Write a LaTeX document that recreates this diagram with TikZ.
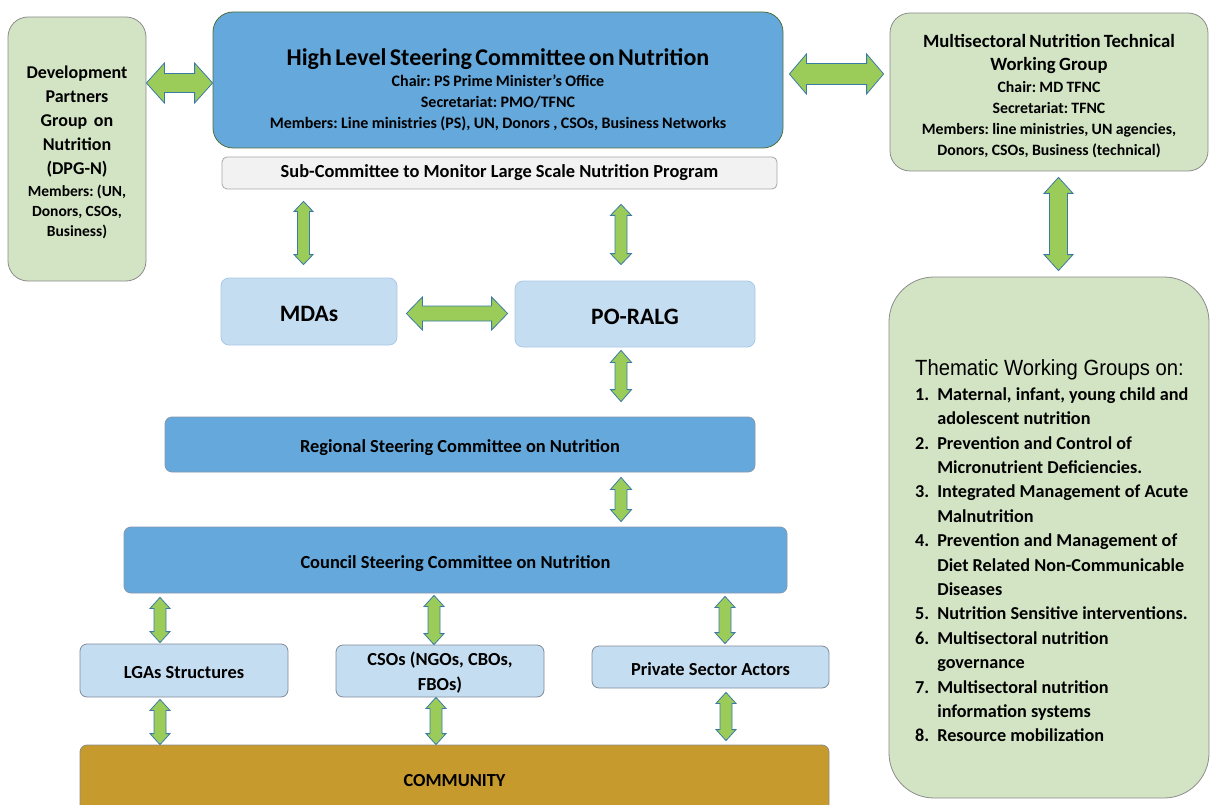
\documentclass[tikz,border=0pt]{standalone}
\usepackage{fontspec}
\setmainfont{Carlito}
\newfontfamily\arialfont[FakeStretch=0.92]{Liberation Sans}
\usetikzlibrary{calc}
\frenchspacing

\definecolor{grpgreen}{HTML}{D3E4C4}
\definecolor{grpedge}{HTML}{8C8C8C}
\definecolor{comblue}{HTML}{65A8DC}
\definecolor{hledge}{HTML}{4E6D3A}
\definecolor{lvledge}{HTML}{8497B0}
\definecolor{paleblue}{HTML}{C5DDF1}
\definecolor{paleedge}{HTML}{A9C8E8}
\definecolor{unitedge}{HTML}{7F8C99}
\definecolor{subfill}{HTML}{F2F2F2}
\definecolor{subedge}{HTML}{A6A6A6}
\definecolor{commfill}{HTML}{C69A2C}
\definecolor{arrfill}{HTML}{9BCC5A}
\definecolor{arredge}{HTML}{3A7BA5}

\tikzset{
  box/.style={rectangle, inner sep=0pt, line width=0.8pt, align=center},
  greenbox/.style={box, fill=grpgreen, draw=grpedge, rounded corners=20pt},
  bluebox/.style={box, fill=comblue, draw=lvledge, rounded corners=7pt},
  palebox/.style={box, fill=paleblue, draw=unitedge, rounded corners=7pt},
  fatarrowstyle/.style={fill=arrfill, draw=arredge, line width=0.8pt, line join=miter},
  bodyfont/.style={font=\bfseries\fontsize{18.4}{25}\selectfont},
  txt/.style={bodyfont, text height=16pt, text depth=0pt},
  bigtxt/.style={font=\bfseries\fontsize{23.5}{28}\selectfont, text height=20pt, text depth=0pt},
}

% double-headed block arrow between two points:
% #1 start, #2 end, #3 half shaft width, #4 half head width, #5 head length
\newcommand\fatarrow[5]{%
  \path let \p1=#1, \p2=#2 in
    \pgfextra{\pgfmathsetmacro\faang{atan2(\y2-\y1,\x2-\x1)}%
              \pgfmathsetmacro\falen{veclen(\x2-\x1,\y2-\y1)}%
              \xdef\faang{\faang}\xdef\falen{\falen}};
  \draw[fatarrowstyle, shift={#1}, rotate=\faang]
    (0pt,0pt) -- (#5pt,#4pt) -- (#5pt,#3pt) -- ({\falen pt-#5pt},#3pt)
    -- ({\falen pt-#5pt},#4pt) -- (\falen pt,0pt) -- ({\falen pt-#5pt},-#4pt)
    -- ({\falen pt-#5pt},-#3pt) -- (#5pt,-#3pt) -- (#5pt,-#4pt) -- cycle;
}

\begin{document}
\begin{tikzpicture}[x=1pt, y=-1pt]
\useasboundingbox (0,0) rectangle (1210,805);
\clip (0,0) rectangle (1210,805);

% ---- national level ----
\node[greenbox, minimum width=138pt, minimum height=264pt] (dpg) at (77,149) {};
\node[align=center, text width=134pt, inner sep=0pt] (dpgt) at (77,152.5)
  {\bfseries\fontsize{18}{24}\selectfont Development\\ Partners\\ Group~ on\\ Nutrition\\ (DPG-N)\par
   \vspace{2pt}\fontsize{15.5}{20}\selectfont Members: (UN,\\ Donors, CSOs,\\ Business)\par};

\node[box, fill=comblue, draw=hledge, rounded corners=20pt, minimum width=570pt, minimum height=136pt] (hlsc) at (498,80) {};
\node[align=center, text width=560pt, inner sep=0pt] (hlsct) at (498,89.5)
  {\bfseries\fontsize{24}{28}\selectfont High Level Steering Committee on Nutrition\par
   \fontsize{16}{21}\selectfont Chair: PS Prime Minister’s Office\\ Secretariat: PMO/TFNC\\
   Members: Line ministries (PS), UN, Donors , CSOs, Business Networks\par};

\node[box, fill=subfill, draw=subedge, rounded corners=5pt, minimum width=555pt, minimum height=32pt, bodyfont] (sub) at (499.5,173)
  {Sub-Committee to Monitor Large Scale Nutrition Program};

\node[greenbox, minimum width=318pt, minimum height=158pt] (mntwg) at (1049,92) {};
\node[align=center, text width=310pt, inner sep=0pt] (mntwgt) at (1049,96.5)
  {\bfseries\fontsize{18.7}{23}\selectfont Multisectoral Nutrition Technical\\ Working Group\par
   \fontsize{15.8}{21.3}\selectfont Chair: MD TFNC\\ Secretariat: TFNC\\
   Members: line ministries, UN agencies,\\ Donors, CSOs, Business (technical)\par};

\node[box, fill=grpgreen, draw=grpedge, rounded corners=45pt, minimum width=320pt, minimum height=521pt] (twg) at (1049,537.5) {};
\node[anchor=base west, inner sep=0pt, font=\arialfont\fontsize{22}{26}\selectfont] (twghead) at (915,375)
  {Thematic Working Groups on:};
\node[anchor=north west, inner sep=0pt, font=\bfseries\fontsize{18.2}{24.4}\selectfont] (twglist) at (915,383)
  {\begin{tabular}{@{}l@{\hspace{8pt}}l@{}}
   1. & Maternal, infant, young child and\\
      & adolescent nutrition\\
   2. & Prevention and Control of\\
      & Micronutrient Deficiencies.\\
   3. & Integrated Management of Acute\\
      & Malnutrition\\
   4. & Prevention and Management of\\
      & Diet Related Non-Communicable\\
      & Diseases\\
   5. & Nutrition Sensitive interventions.\\
   6. & Multisectoral nutrition\\
      & governance\\
   7. & Multisectoral nutrition\\
      & information systems\\
   8. & Resource mobilization
   \end{tabular}};

% ---- ministries and regional level ----
\node[box, fill=paleblue, draw=paleedge, rounded corners=8pt, minimum width=176pt, minimum height=67pt, bigtxt] (mdas) at (309,311.5) {MDAs};
\node[box, fill=paleblue, draw=paleedge, rounded corners=8pt, minimum width=240pt, minimum height=66pt, bigtxt] (poralg) at (635,314) {PO-RALG};

\node[bluebox, minimum width=590pt, minimum height=55pt, txt] (regional) at (460,444.5) {Regional Steering Committee on Nutrition};
\node[bluebox, minimum width=663pt, minimum height=66pt, txt] (council) at (455.5,560) {Council Steering Committee on Nutrition};

% ---- council actors and community ----
\node[palebox, minimum width=208pt, minimum height=53pt, txt] (lgas) at (184,670.5) {LGAs Structures};
\node[palebox, minimum width=208pt, minimum height=52pt] (csos) at (440,671) {};
\node[align=center, inner sep=0pt, bodyfont] (csost) at (440,673) {CSOs (NGOs, CBOs,\\ FBOs)};
\node[palebox, minimum width=237pt, minimum height=42pt, txt] (private) at (710.5,667) {Private Sector Actors};

\node[box, fill=commfill, draw=grpedge, rounded corners=7pt, minimum width=749pt, minimum height=66pt, txt] (community) at (454.5,778) {COMMUNITY};

% ---- connectors ----
\fatarrow{(dpg.east |- 0,83)}{(hlsc.west |- 0,83)}{9.5}{20}{18}
\fatarrow{($(hlsc.east |- 0,74)+(6,0)$)}{($(mntwg.west |- 0,74)+(-6,0)$)}{10.5}{20}{17}
\fatarrow{($(sub.south -| 303.5,0)+(0,12)$)}{($(mdas.north -| 303.5,0)+(0,-13)$)}{6}{9.5}{10}
\fatarrow{($(sub.south -| 621,0)+(0,15)$)}{($(poralg.north -| 621,0)+(0,-16)$)}{6}{10.5}{11}
\fatarrow{($(mdas.east)+(9,2)$)}{($(poralg.west)+(-7,-0.5)$)}{7.5}{16.5}{16}
\fatarrow{($(poralg.south -| 621,0)+(0,3)$)}{($(regional.north -| 621,0)+(0,-15)$)}{6}{10.5}{12}
\fatarrow{($(regional.south -| 621,0)+(0,5)$)}{($(council.north -| 621,0)+(0,-5)$)}{6}{10.5}{12}
\fatarrow{($(mntwg.south -| 1058.5,0)+(0,6)$)}{($(twg.north -| 1058.5,0)+(0,-6)$)}{9}{14.5}{16}
\fatarrow{($(council.south -| 160,0)+(0,4)$)}{($(lgas.north -| 160,0)+(0,-1)$)}{6}{10}{11}
\fatarrow{($(council.south -| 434,0)+(0,2)$)}{($(csos.north)+(-6,0)$)}{6}{10}{11}
\fatarrow{($(council.south -| 725,0)+(0,3)$)}{($(private.north -| 725,0)+(0,-2)$)}{6}{10}{11}
\fatarrow{($(lgas.south -| 160,0)+(0,2)$)}{($(community.north -| 160,0)$)}{6}{10}{11}
\fatarrow{($(csos.south -| 436,0)$)}{($(community.north -| 436,0)$)}{6}{10}{11}
\fatarrow{($(private.south -| 726,0)+(0,4)$)}{($(community.north -| 726,0)+(0,-4)$)}{6}{10}{11}
\end{tikzpicture}
\end{document}
